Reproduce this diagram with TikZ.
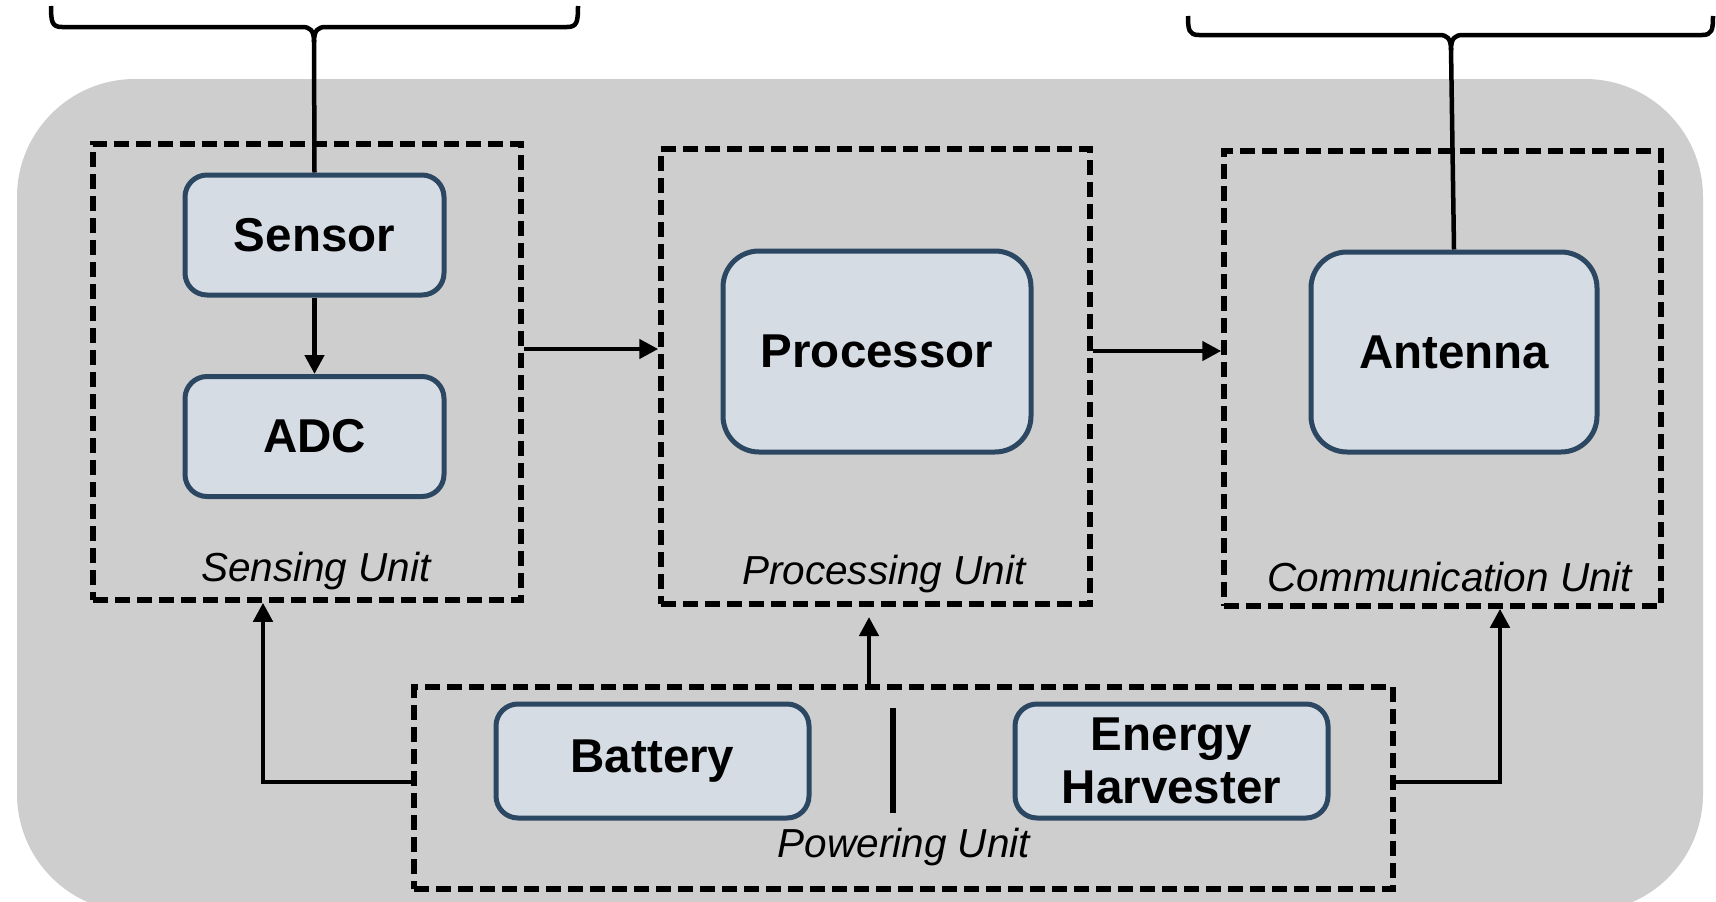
\documentclass[tikz,border=0pt]{standalone}
\usepackage{fontspec}
\setmainfont{Liberation Sans}
\usetikzlibrary{arrows.meta}
\definecolor{bggray}{RGB}{207,206,207}
\definecolor{boxfill}{RGB}{214,220,228}
\definecolor{boxline}{RGB}{44,71,98}
\begin{document}
\begin{tikzpicture}[x=1pt,y=-1pt,
  comp/.style={draw=boxline,fill=boxfill,line width=5pt,rounded corners=22pt,
    font=\fontsize{47.5}{55}\selectfont\bfseries,align=center,inner sep=0pt},
  bigcomp/.style={comp,rounded corners=36pt},
  unitbox/.style={draw=black,line width=5.5pt,dash pattern=on 15pt off 7pt,inner sep=0pt},
  unitlabel/.style={font=\fontsize{40.5}{48}\selectfont\itshape,inner sep=0pt},
  arr/.style={draw=black,line width=4.5pt,-{Triangle[length=19pt,width=19pt]}},
  plain/.style={draw=black,line width=4.5pt},
  bracestyle/.style={draw=black,line width=4.5pt}]
\useasboundingbox (0,0) rectangle (1716,902);
% background
\fill[bggray,rounded corners=118pt] (17,79) rectangle (1703,912);
% unit boxes
\node[unitbox,minimum width=428pt,minimum height=456pt] (sensing) at (307,372) {};
\node[unitbox,minimum width=429pt,minimum height=455pt] (processing) at (875.5,376.5) {};
\node[unitbox,minimum width=437pt,minimum height=455pt] (comm) at (1442.5,378.5) {};
\node[unitbox,minimum width=979pt,minimum height=202pt] (power) at (903.5,788) {};
% components
\node[comp,minimum width=259pt,minimum height=120pt] (sensor) at (314.5,235) {Sensor};
\node[comp,minimum width=259pt,minimum height=120pt] (adc) at (314.5,436.5) {ADC};
\node[bigcomp,minimum width=308pt,minimum height=201pt] (processor) at (877,351.5) {Processor};
\node[bigcomp,minimum width=286pt,minimum height=200pt] (antenna) at (1454,352) {Antenna};
\node[comp,minimum width=313pt,minimum height=114pt] (battery) at (652.5,761) {Battery};
\node[comp,minimum width=313pt,minimum height=114pt] (harvester) at (1171.5,761) {Energy\\[-2pt]Harvester};
% labels
\node[unitlabel] (lsens) at (316,571) {Sensing Unit};
\node[unitlabel] (lproc) at (884,574) {Processing Unit};
\node[unitlabel] (lcomm) at (1450,577) {Communication Unit};
\node[unitlabel] (lpow) at (904,847) {Powering Unit};
% separator
\coordinate (septop) at (893,708);
\coordinate (sepbot) at (893,813);
\draw[line width=6pt] (septop) -- (sepbot);
% helper coordinates
\coordinate (y349) at (0,349);
\coordinate (y351) at (0,351);
\coordinate (y782) at (0,782);
\coordinate (x263) at (263,0);
\coordinate (x869) at (869,0);
\coordinate (x1500) at (1500,0);
\coordinate (ptip) at (869,617);
% arrows
\draw[arr] (sensor) -- (adc);
\draw[arr] (sensing.east |- y349) -- (processing.west |- y349);
\draw[arr] (processing.east |- y351) -- (comm.west |- y351);
\draw[arr] (power.west |- y782) -| (sensing.south -| x263);
\draw[arr] (power.north -| x869) -- (ptip);
\draw[arr] (power.east |- y782) -| (comm.south -| x1500);
% braces
\coordinate (lbrace) at (314,40);
\coordinate (rbrace) at (1451,48);
\draw[bracestyle] (51,6) .. controls (51,22) and (52,27) .. (62,27) -- (302,27)
  .. controls (310,27) and (314,30) .. (314,42)
  .. controls (314,30) and (318,27) .. (326,27) -- (567,27)
  .. controls (577,27) and (578,22) .. (578,6);
\draw[bracestyle] (1188,16) .. controls (1188,30) and (1189,35) .. (1199,35) -- (1439,35)
  .. controls (1447,35) and (1451,38) .. (1451,50)
  .. controls (1451,38) and (1455,35) .. (1463,35) -- (1702,35)
  .. controls (1712,35) and (1713,30) .. (1713,16);
\draw[plain] (lbrace) -- (sensor.north);
\draw[plain] (rbrace) -- (antenna.north);
\end{tikzpicture}
\end{document}
